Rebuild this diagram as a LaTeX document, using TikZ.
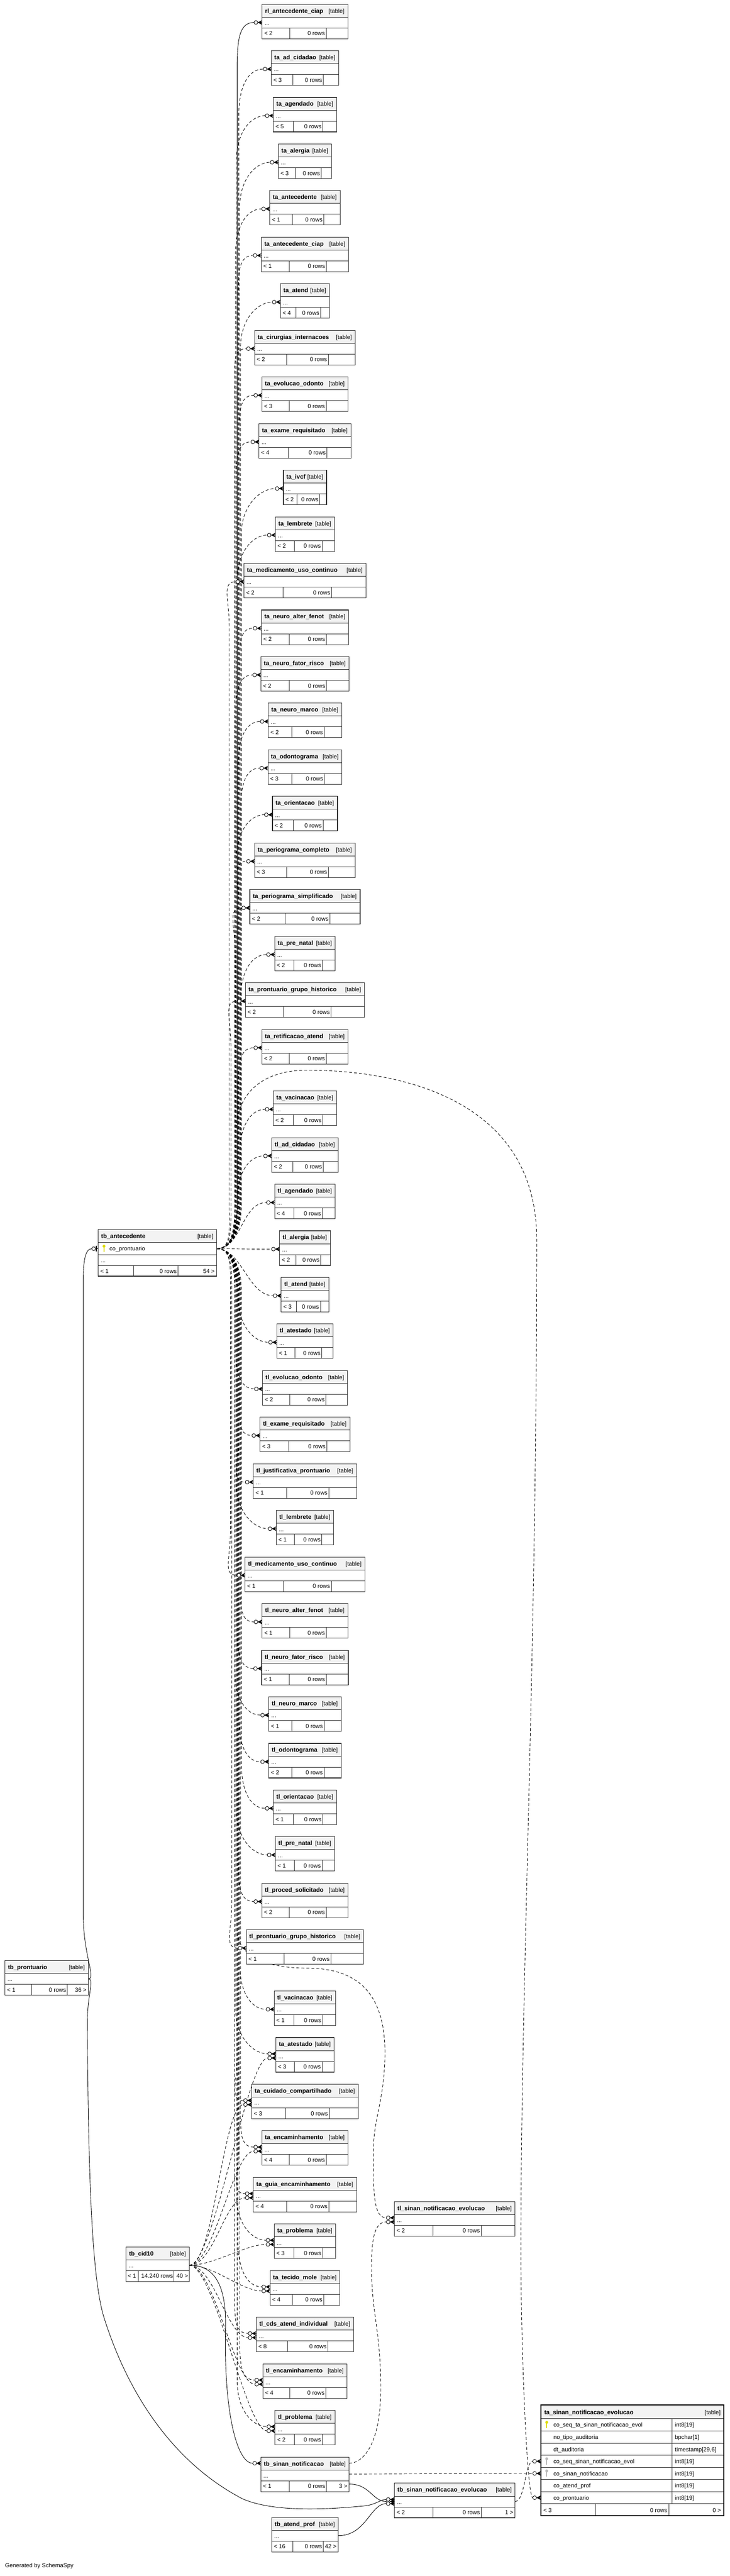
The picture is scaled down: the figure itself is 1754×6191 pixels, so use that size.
\documentclass[tikz,border=0pt]{standalone}
\usepackage{fontspec}
\setmainfont{Liberation Sans}
\usetikzlibrary{calc}
\pgfdeclarelayer{bg}
\pgfsetlayers{bg,main}
\definecolor{keyyel}{RGB}{222,220,0}
\definecolor{keygray}{RGB}{185,185,185}
\definecolor{hdrgray}{RGB}{243,243,243}
\definecolor{bordgray}{RGB}{45,45,45}
\tikzset{
  tborder/.style={draw=bordgray, line width=1.3pt},
  fborder/.style={draw=black, line width=2.6pt},
  cell/.style={draw=bordgray, line width=1.1pt},
  hdr/.style={fill=hdrgray},
  tbg/.style={fill=white, inner sep=0pt},
  txt/.style={inner sep=0pt, font=\fontsize{14}{16}\selectfont},
  nm/.style={inner sep=0pt, font=\fontsize{14.5}{16}\selectfont\bfseries},
  rel/.style={draw=black, line width=1.1pt},
  imp/.style={draw=black, line width=1.1pt, dash pattern=on 7pt off 5pt},
}
\newcommand{\ctab}[8]{%
  \pgfmathsetmacro\tL{#2-#4/2}%
  \pgfmathsetmacro\tR{#2+#4/2}%
  \pgfmathsetmacro\tTa{#3+31}%
  \pgfmathsetmacro\tTb{#3+57}%
  \pgfmathsetmacro\tB{#3+83}%
  \pgfmathsetmacro\tXa{\tL+0.32*#4}%
  \pgfmathsetmacro\tXb{\tXa+20+0.33*#4}%
  \pgfmathsetmacro\tP{#3+44}%
  \node[tbg, minimum width=#4pt, minimum height=83pt, anchor=north] (#1) at (#2,#3) {};
  \fill[hdr] (\tL,#3) rectangle (\tR,\tTa);
  \draw[cell] (\tL,\tTa) -- (\tR,\tTa) (\tL,\tTb) -- (\tR,\tTb) (\tXa,\tTb) -- (\tXa,\tB) (\tXb,\tTb) -- (\tXb,\tB);
  \draw[tborder] (\tL,#3) rectangle (\tR,\tB);
  \node[nm, anchor=base west] (#1-nm) at (\tL+7,#3+21) {#5};
  \node[txt, anchor=base east] (#1-tb) at (\tR-8,#3+21) {[table]};
  \node[txt, anchor=base west] (#1-dots) at (\tL+6,#3+50) {...};
  \node[txt, anchor=base west] (#1-lt) at (\tL+5,#3+75) {< #6};
  \node[txt, anchor=base east] (#1-rows) at (\tXb-3,#3+75) {#8 rows};
  \node[txt, anchor=base east] (#1-gt) at (\tR-4,#3+75) {#7};
  \coordinate (#1-w) at (\tL,\tP);
  \coordinate (#1-wa) at (\tL,\tP-5);
  \coordinate (#1-wb) at (\tL,\tP+5);
  \coordinate (#1-in) at (\tL-19.5,\tP);
  \coordinate (#1-ina) at (\tL-19.5,\tP-5);
  \coordinate (#1-inb) at (\tL-19.5,\tP+5);
  \coordinate (#1-e) at (\tR,\tP);
}
\newcommand{\mk}[1]{%
  \draw[line width=1.1pt, fill=white] ($(#1)+(-15,0)$) circle[radius=4.5pt];
  \fill ($(#1)+(-11,0)$) -- ($(#1)+(0,-5.5)$) -- ($(#1)+(-3,0)$) -- ($(#1)+(0,5.5)$) -- cycle;
  \draw[line width=1.1pt] ($(#1)+(-11,0)$) -- (#1);
}
\newcommand{\keyicon}[2]{%
  \fill[#2] ($(#1)+(0,-6)$) circle[radius=3.5pt];
  \fill[#2] ($(#1)+(-1.2,-4)$) rectangle ($(#1)+(1.2,8)$);
}
\newcommand{\upe}[3]{\draw[#3] let \p1=(#1) in (ante-out) .. controls +(35,0) and +(0,60) .. (#2,2900) -- (#2pt,\y1-110pt) .. controls +(0,-70) and +(-35,0) .. (#1);}
\newcommand{\dne}[3]{\draw[#3] let \p1=(#1) in (ante-out) .. controls +(35,0) and +(0,-60) .. (#2,3100) -- (#2pt,\y1+110pt) .. controls +(0,70) and +(-35,0) .. (#1);}
\newcommand{\nre}[2]{\draw[#2] (ante-out) .. controls +(60,0) and +(-60,0) .. (#1);}
\newcommand{\cde}[2]{\draw[#2] (cid-e) .. controls +(60,0) and +(-50,0) .. (#1);}
\begin{document}
\begin{tikzpicture}[x=1pt,y=-1pt]
\useasboundingbox (0,0) rectangle (1754,6191);
% ---------- column of tables ----------
\ctab{t00}{733}{10}{206}{rl\_antecedente\_ciap}{2}{}{0}
\ctab{t01}{733}{122}{162}{ta\_ad\_cidadao}{3}{}{0}
\ctab{t02}{733}{234}{152}{ta\_agendado}{5}{}{0}
\ctab{t03}{733}{346}{128}{ta\_alergia}{3}{}{0}
\ctab{t04}{733}{458}{169}{ta\_antecedente}{1}{}{0}
\ctab{t05}{733}{570}{210}{ta\_antecedente\_ciap}{1}{}{0}
\ctab{t06}{733}{682}{118}{ta\_atend}{4}{}{0}
\ctab{t07}{733}{794}{242}{ta\_cirurgias\_internacoes}{2}{}{0}
\ctab{t08}{733}{906}{207}{ta\_evolucao\_odonto}{3}{}{0}
\ctab{t09}{733}{1018}{221}{ta\_exame\_requisitado}{4}{}{0}
\ctab{t10}{733}{1130}{104}{ta\_ivcf}{2}{}{0}
\ctab{t11}{733}{1242}{142}{ta\_lembrete}{2}{}{0}
\ctab{t12}{733}{1354}{293}{ta\_medicamento\_uso\_continuo}{2}{}{0}
\ctab{t13}{733}{1466}{210}{ta\_neuro\_alter\_fenot}{2}{}{0}
\ctab{t14}{733}{1578}{212}{ta\_neuro\_fator\_risco}{2}{}{0}
\ctab{t15}{733}{1690}{176}{ta\_neuro\_marco}{2}{}{0}
\ctab{t16}{733}{1802}{178}{ta\_odontograma}{3}{}{0}
\ctab{t17}{733}{1914}{156}{ta\_orientacao}{2}{}{0}
\ctab{t18}{733}{2026}{242}{ta\_periograma\_completo}{3}{}{0}
\ctab{t19}{733}{2138}{265}{ta\_periograma\_simplificado}{2}{}{0}
\ctab{t20}{733}{2250}{146}{ta\_pre\_natal}{2}{}{0}
\ctab{t21}{733}{2362}{286}{ta\_prontuario\_grupo\_historico}{2}{}{0}
\ctab{t22}{733}{2474}{207}{ta\_retificacao\_atend}{2}{}{0}
\ctab{t23}{733}{2622}{152}{ta\_vacinacao}{2}{}{0}
\ctab{t24}{733}{2734}{160}{tl\_ad\_cidadao}{2}{}{0}
\ctab{t25}{733}{2846}{146}{tl\_agendado}{4}{}{0}
\ctab{t26}{733}{2958}{122}{tl\_alergia}{2}{}{0}
\ctab{t27}{733}{3070}{114}{tl\_atend}{3}{}{0}
\ctab{t28}{733}{3182}{136}{tl\_atestado}{1}{}{0}
\ctab{t29}{733}{3294}{204}{tl\_evolucao\_odonto}{2}{}{0}
\ctab{t30}{733}{3406}{216}{tl\_exame\_requisitado}{3}{}{0}
\ctab{t31}{733}{3518}{248}{tl\_justificativa\_prontuario}{1}{}{0}
\ctab{t32}{733}{3630}{138}{tl\_lembrete}{1}{}{0}
\ctab{t33}{733}{3742}{288}{tl\_medicamento\_uso\_continuo}{1}{}{0}
\ctab{t34}{733}{3854}{206}{tl\_neuro\_alter\_fenot}{1}{}{0}
\ctab{t35}{733}{3966}{208}{tl\_neuro\_fator\_risco}{1}{}{0}
\ctab{t36}{733}{4078}{174}{tl\_neuro\_marco}{1}{}{0}
\ctab{t37}{733}{4190}{174}{tl\_odontograma}{2}{}{0}
\ctab{t38}{733}{4302}{152}{tl\_orientacao}{1}{}{0}
\ctab{t39}{733}{4414}{142}{tl\_pre\_natal}{1}{}{0}
\ctab{t40}{733}{4526}{207}{tl\_proced\_solicitado}{2}{}{0}
\ctab{t41}{733}{4638}{282}{tl\_prontuario\_grupo\_historico}{1}{}{0}
\ctab{t42}{733}{4785}{148}{tl\_vacinacao}{1}{}{0}
\ctab{t43}{733}{4897}{140}{ta\_atestado}{3}{}{0}
\ctab{t44}{733}{5009}{256}{ta\_cuidado\_compartilhado}{3}{}{0}
\ctab{t45}{733}{5121}{207}{ta\_encaminhamento}{4}{}{0}
\ctab{t46}{733}{5233}{248}{ta\_guia\_encaminhamento}{4}{}{0}
\ctab{t47}{733}{5345}{148}{ta\_problema}{3}{}{0}
\ctab{t48}{733}{5457}{168}{ta\_tecido\_mole}{4}{}{0}
\ctab{t49}{733}{5569}{234}{tl\_cds\_atend\_individual}{8}{}{0}
\ctab{t50}{733}{5681}{202}{tl\_encaminhamento}{4}{}{0}
\ctab{t51}{733}{5793}{144}{tl\_problema}{2}{}{0}
\ctab{t52}{733}{5905}{212}{tb\_sinan\_notificacao}{1}{3 >}{0}
\ctab{t53}{733}{6050}{160}{tb\_atend\_prof}{16}{42 >}{0}
% ---------- other compressed tables ----------
\ctab{pr}{112}{4712}{200}{tb\_prontuario}{1}{36 >}{0}
\ctab{um}{1093}{5291}{290}{tl\_sinan\_notificacao\_evolucao}{2}{}{0}
\ctab{lm}{1093}{5968}{290}{tb\_sinan\_notificacao\_evolucao}{2}{1 >}{0}
% ---------- tb_antecedente ----------
\node[tbg, minimum width=285pt, minimum height=112pt, anchor=north west] (ante) at (236,2955) {};
\fill[hdr] (236,2955) rectangle (521,2986);
\draw[cell] (236,2986) -- (521,2986) (236,3015) -- (521,3015) (236,3041) -- (521,3041) (321,3041) -- (321,3067) (428,3041) -- (428,3067);
\draw[tborder] (236,2955) rectangle (521,3067);
\node[nm, anchor=base west] (ante-nm) at (243,2976) {tb\_antecedente};
\node[txt, anchor=base east] (ante-tb) at (513,2976) {[table]};
\keyicon{250,3001}{keyyel}
\node[txt, anchor=base west] (ante-c1) at (263,3006) {co\_prontuario};
\node[txt, anchor=base west] (ante-dots) at (242,3034) {...};
\node[txt, anchor=base west] (ante-lt) at (241,3060) {< 1};
\node[txt, anchor=base east] (ante-rows) at (425,3060) {0 rows};
\node[txt, anchor=base east] (ante-gt) at (516,3060) {54 >};
\coordinate (ante-out) at (521,3001);
\coordinate (ante-wp) at (236,3001);
\coordinate (ante-win) at (220.5,3001);
% ---------- tb_cid10 ----------
\node[tbg, minimum width=152pt, minimum height=83pt, anchor=north west] (cid) at (303,5400) {};
\fill[hdr] (303,5400) rectangle (455,5431);
\draw[cell] (303,5431) -- (455,5431) (303,5457) -- (455,5457) (332,5457) -- (332,5483) (418,5457) -- (418,5483);
\draw[tborder] (303,5400) rectangle (455,5483);
\node[nm, anchor=base west] (cid-nm) at (310,5421) {tb\_cid10};
\node[txt, anchor=base east] (cid-tb) at (447,5421) {[table]};
\node[txt, anchor=base west] (cid-dots) at (309,5450) {...};
\node[txt, anchor=base west] (cid-lt) at (307,5475) {< 1};
\node[txt, anchor=base east] (cid-rows) at (416,5475) {14.240 rows};
\node[txt, anchor=base east] (cid-gt) at (452,5475) {40 >};
\coordinate (cid-e) at (455,5444);
% ---------- focal table ----------
\node[tbg, minimum width=440pt, minimum height=266.6pt, anchor=north west] (fo) at (1300,5780) {};
\fill[hdr] (1300,5780) rectangle (1740,5813);
\foreach \k in {0,...,7} {\draw[cell] (1300,5813+29.2*\k) -- (1740,5813+29.2*\k);}
\draw[cell] (1615,5813) -- (1615,6017.4) (1432,6017.4) -- (1432,6046.6) (1608,6017.4) -- (1608,6046.6);
\draw[fborder] (1300,5780) rectangle (1740,6046.6);
\node[nm, anchor=base west] (fo-nm) at (1308,5803) {ta\_sinan\_notificacao\_evolucao};
\node[txt, anchor=base east] (fo-tb) at (1732,5803) {[table]};
\keyicon{1314,5827.6}{keyyel}
\keyicon{1314,5915.2}{keygray}
\keyicon{1314,5944.4}{keygray}
\node[txt, anchor=base west] (fo-c1) at (1330,5833) {co\_seq\_ta\_sinan\_notificacao\_evol};
\node[txt, anchor=base west] (fo-c2) at (1330,5862.2) {no\_tipo\_auditoria};
\node[txt, anchor=base west] (fo-c3) at (1330,5891.4) {dt\_auditoria};
\node[txt, anchor=base west] (fo-c4) at (1330,5920.6) {co\_seq\_sinan\_notificacao\_evol};
\node[txt, anchor=base west] (fo-c5) at (1330,5949.8) {co\_sinan\_notificacao};
\node[txt, anchor=base west] (fo-c6) at (1330,5979) {co\_atend\_prof};
\node[txt, anchor=base west] (fo-c7) at (1330,6008.2) {co\_prontuario};
\node[txt, anchor=base west] (fo-t1) at (1622,5833) {int8[19]};
\node[txt, anchor=base west] (fo-t2) at (1622,5862.2) {bpchar[1]};
\node[txt, anchor=base west] (fo-t3) at (1622,5891.4) {timestamp[29,6]};
\node[txt, anchor=base west] (fo-t4) at (1622,5920.6) {int8[19]};
\node[txt, anchor=base west] (fo-t5) at (1622,5949.8) {int8[19]};
\node[txt, anchor=base west] (fo-t6) at (1622,5979) {int8[19]};
\node[txt, anchor=base west] (fo-t7) at (1622,6008.2) {int8[19]};
\node[txt, anchor=base west] (fo-lt) at (1306,6037.4) {< 3};
\node[txt, anchor=base east] (fo-rows) at (1604,6037.4) {0 rows};
\node[txt, anchor=base east] (fo-gt) at (1733,6037.4) {0 >};
\coordinate (fo-w4) at (1300,5915.2);
\coordinate (fo-w5) at (1300,5944.4);
\coordinate (fo-w7) at (1300,6002.8);
\coordinate (fo-in4) at (1280.5,5915.2);
\coordinate (fo-in5) at (1280.5,5944.4);
\coordinate (fo-in7) at (1280.5,6002.8);
% special ports of tb_sinan_notificacao
\coordinate (t52-eh) at (839,5920);
\coordinate (t52-em) at (839,5946);
\coordinate (t52-ef) at (839,5970);
\coordinate (t52-wh) at (627,5920);
\coordinate (t52-inh) at (607.5,5920);
% footer text
\node[txt, anchor=base west] (gen) at (12,6170) {Generated by SchemaSpy};
% ---------- connectors ----------
\begin{pgfonlayer}{bg}
\upe{t00-in}{570}{rel}
\upe{t01-in}{574}{imp}
\upe{t02-in}{568}{imp}
\upe{t03-in}{576}{imp}
\upe{t04-in}{566}{imp}
\upe{t05-in}{572}{imp}
\upe{t06-in}{578}{imp}
\upe{t07-in}{564}{imp}
\upe{t08-in}{574}{imp}
\upe{t09-in}{568}{imp}
\upe{t10-in}{580}{imp}
\upe{t11-in}{570}{imp}
\upe{t12-in}{551}{imp}
\upe{t13-in}{576}{imp}
\upe{t14-in}{566}{imp}
\upe{t15-in}{572}{imp}
\upe{t16-in}{578}{imp}
\upe{t17-in}{568}{imp}
\upe{t18-in}{574}{imp}
\upe{t19-in}{565}{imp}
\upe{t20-in}{578}{imp}
\upe{t21-in}{555}{imp}
\upe{t22-in}{572}{imp}
\upe{t23-in}{576}{imp}
\upe{t24-in}{570}{imp}
\nre{t25-in}{imp}
\nre{t26-in}{imp}
\nre{t27-in}{imp}
\dne{t28-in}{572}{imp}
\dne{t29-in}{566}{imp}
\dne{t30-in}{576}{imp}
\dne{t31-in}{574}{imp}
\dne{t32-in}{568}{imp}
\dne{t33-in}{554}{imp}
\dne{t34-in}{578}{imp}
\dne{t35-in}{570}{imp}
\dne{t36-in}{564}{imp}
\dne{t37-in}{574}{imp}
\dne{t38-in}{580}{imp}
\dne{t39-in}{568}{imp}
\dne{t40-in}{572}{imp}
\dne{t41-in}{557}{imp}
\dne{t42-in}{576}{imp}
\dne{t43-ina}{566}{imp}
\dne{t44-ina}{570}{imp}
\dne{t45-ina}{578}{imp}
\dne{t46-ina}{574}{imp}
\dne{t47-ina}{568}{imp}
\dne{t48-ina}{572}{imp}
\dne{t49-ina}{564}{imp}
\dne{t50-ina}{576}{imp}
\dne{t51-ina}{570}{imp}
% arc A : tb_antecedente -> focal (co_prontuario)
\draw[imp] (ante-out) .. controls +(35,0) and +(0,60) .. (568,2900) -- (568,2720) .. controls (568,2620) and (640,2572) .. (737,2572) .. controls (960,2572) and (1290,2640) .. (1290,2980) .. controls (1290,4000) and (1250,4800) .. (1252,5450) .. controls (1254,5700) and (1268,6002.8) .. (fo-in7);
% arc B : tb_antecedente -> upper middle table
\draw[imp] (ante-out) .. controls +(35,0) and +(0,-60) .. (570,3100) -- (570,4640) .. controls (570,4700) and (640,4730) .. (737,4730) .. controls (860,4730) and (930,4790) .. (925,4950) .. controls (921,5060) and (897,5090) .. (897,5180) .. controls (897,5280) and (900,5330) .. (um-ina);
% tb_cid10 children
\cde{t43-inb}{imp}
\cde{t44-inb}{imp}
\cde{t45-inb}{imp}
\cde{t46-inb}{imp}
\cde{t47-inb}{imp}
\cde{t48-inb}{imp}
\cde{t49-inb}{imp}
\cde{t50-inb}{imp}
\cde{t51-inb}{imp}
\draw[rel] (cid-e) .. controls (515,5444) and (545,5490) .. (542,5600) .. controls (538,5800) and (570,5920) .. (t52-inh);
% tb_sinan_notificacao children
\draw[imp] (t52-eh) .. controls (870,5920) and (915,5880) .. (915,5740) .. controls (915,5600) and (893,5560) .. (893,5450) .. controls (893,5380) and (900,5340) .. (um-inb);
\draw[imp] (t52-em) -- (fo-in5);
\draw[rel] (t52-ef) .. controls (890,5970) and (895,6012) .. (lm-in);
% tb_atend_prof -> lower middle
\draw[rel] (t53-e) .. controls (880,6094) and (890,6017) .. (lm-inb);
% lower middle -> focal
\draw[imp] (lm-e) .. controls (1262,6012) and (1262,5915.2) .. (fo-in4);
% tb_prontuario -> tb_antecedente
\draw[rel] (pr-e) .. controls (232,4756) and (200,4700) .. (200,4600) -- (200,3080) .. controls (200,3030) and (205,3001) .. (ante-win);
% tb_prontuario -> lower middle
\draw[rel] (pr-e) .. controls (228,4756) and (210,4790) .. (210,4860) .. controls (212,5250) and (222,5480) .. (250,5570) .. controls (310,5760) and (420,5920) .. (582,6005) .. controls (660,6040) and (800,6030) .. (880,6022) .. controls (905,6018) and (915,6007) .. (lm-ina);
\end{pgfonlayer}
% ---------- end markers ----------
\foreach \i in {00,01,02,03,04,05,06,07,08,09,10,11,12,13,14,15,16,17,18,19,20,21,22,23,24,25,26,27,28,29,30,31,32,33,34,35,36,37,38,39,40,41,42} {\mk{t\i-w}}
\foreach \i in {43,44,45,46,47,48,49,50,51} {\mk{t\i-wa}\mk{t\i-wb}}
\mk{t52-wh}
\mk{um-wa}\mk{um-wb}
\mk{lm-w}\mk{lm-wa}\mk{lm-wb}
\mk{fo-w4}\mk{fo-w5}\mk{fo-w7}
% zero-or-one marker on tb_antecedente
\draw[line width=1.1pt] ($(ante-wp)+(-11,0)$) -- (ante-wp);
\draw[line width=1.1pt, fill=white] ($(ante-wp)+(-11,0)$) circle[radius=4.5pt];
\draw[line width=2pt] ($(ante-wp)+(-4.5,-6.5)$) -- ($(ante-wp)+(-4.5,6.5)$);
\end{tikzpicture}
\end{document}
